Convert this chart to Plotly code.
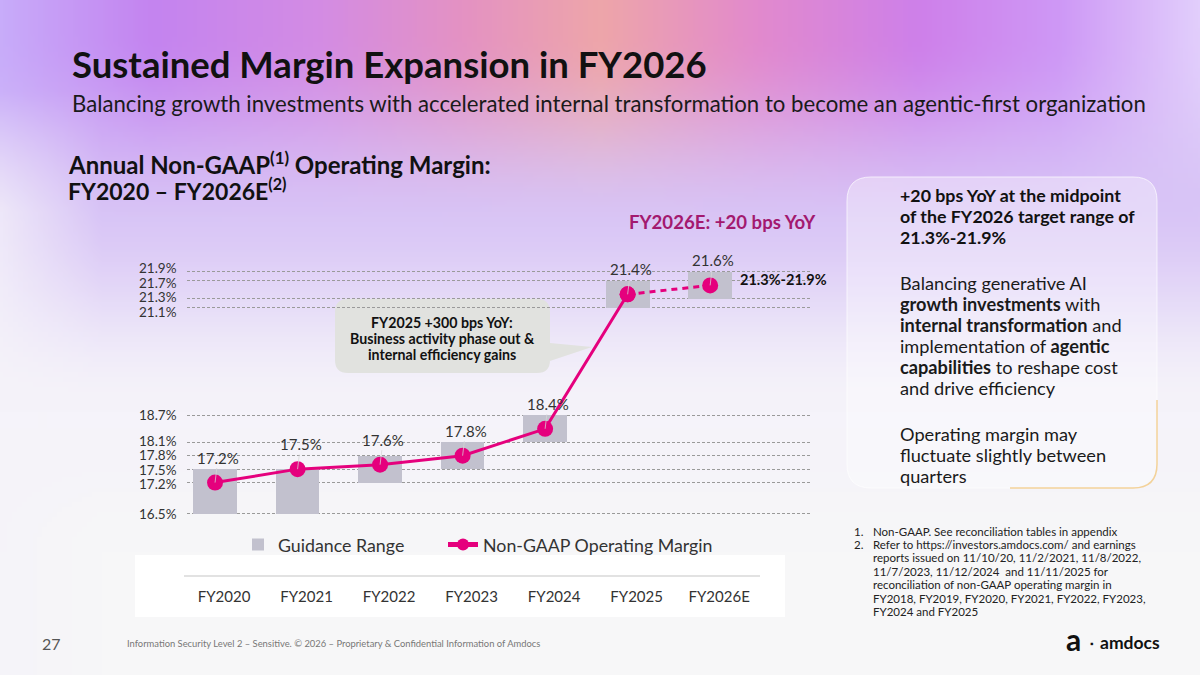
import base64, struct, zlib
import numpy as np
import plotly.graph_objects as go

# ---------------- data ----------------
categories = ["FY2020", "FY2021", "FY2022", "FY2023", "FY2024", "FY2025", "FY2026E"]
margin_pct = [17.2, 17.5, 17.6, 17.8, 18.4, 21.4, 21.6]
guide_low = [16.5, 16.5, 17.2, 17.5, 18.1, 21.1, 21.3]
guide_high = [17.5, 17.5, 17.8, 18.1, 18.7, 21.7, 21.9]
y_ticks = sorted(set(guide_low + guide_high))
y_tick_labels = [f"{v:.1f}%" for v in y_ticks]
margin_labels = [f"{v:.1f}%" for v in margin_pct]
target_label = "21.3%-21.9%"

W, H = 1200, 675
FONT = "Lato, sans-serif"
PINK = "#e5007d"
DARK = "#111111"

# plot area (pixels) and y range
PLOT_TOP, PLOT_BOTTOM = 254, 576
Y_RANGE = [15.116, 22.30]


def px(x):
    return x / W


def py(y):
    return 1 - y / H


# ---------------- background gradient (decorative) ----------------
GW, GH = 240, 135
gx = np.linspace(0, W, GW)[None, :]
gy = np.linspace(0, H, GH)[:, None]
stops_x = [0, 150, 320, 460, 600, 760, 920, 1060, 1200]
stops_c = [(200, 172, 250), (196, 132, 240), (212, 140, 228), (228, 146, 196), (238, 166, 170),
           (226, 138, 206), (206, 128, 234), (206, 152, 246), (226, 206, 252)]
top = np.stack([np.interp(gx[0], stops_x, [c[k] for c in stops_c]) for k in range(3)], axis=-1)
mid = np.array([216, 196, 246.0])
light = np.array([245, 243, 250.0])
base = np.array([247, 247, 248.0])


def ss(t):
    t = np.clip(t, 0, 1)
    return t * t * (3 - 2 * t)


t1 = ss((gy - 30) / 200)[..., None]
t2 = ss((gy - 190) / 220)[..., None]
t3 = ss((gy - 430) / 120)[..., None]
col = top[None, :, :] * (1 - t1) + mid * t1
col = col * (1 - t2) + light * t2
col = col * (1 - t3) + base * t3
wl = (np.clip((100 - gx) / 100, 0, 1) * np.clip((gy - 90) / 120, 0, 1))[..., None] * 0.75
col = col * (1 - wl) + light * wl
img = np.clip(col, 0, 255).astype(np.uint8)
raw = b"".join(b"\x00" + img[r].tobytes() for r in range(GH))


def chunk(tag, data):
    return struct.pack(">I", len(data)) + tag + data + struct.pack(">I", zlib.crc32(tag + data) & 0xffffffff)


png = (b"\x89PNG\r\n\x1a\n" + chunk(b"IHDR", struct.pack(">IIBBBBB", GW, GH, 8, 2, 0, 0, 0))
       + chunk(b"IDAT", zlib.compress(raw, 9)) + chunk(b"IEND", b""))
bg_src = "data:image/png;base64," + base64.b64encode(png).decode()


def rrect_path(x0, y0, x1, y1, r, tail=None):
    def P(x, y):
        return f"{px(x):.5f},{py(y):.5f}"
    s = f"M {P(x0 + r, y0)} L {P(x1 - r, y0)} Q {P(x1, y0)} {P(x1, y0 + r)} "
    if tail:
        ty0, tx, ty, ty1 = tail
        s += f"L {P(x1, ty0)} L {P(tx, ty)} L {P(x1, ty1)} "
    s += (f"L {P(x1, y1 - r)} Q {P(x1, y1)} {P(x1 - r, y1)} L {P(x0 + r, y1)} "
          f"Q {P(x0, y1)} {P(x0, y1 - r)} L {P(x0, y0 + r)} Q {P(x0, y0)} {P(x0 + r, y0)} Z")
    return s


# ---------------- figure ----------------
fig = go.Figure()
fig.add_trace(go.Bar(
    x=categories, y=[h - l for h, l in zip(guide_high, guide_low)], base=guide_low,
    width=0.53, marker=dict(color="#c2c1ce", line=dict(width=0)),
    name="Guidance Range", hoverinfo="skip", legend="legend"))
fig.add_trace(go.Scatter(
    x=categories[:-1], y=margin_pct[:-1], mode="lines+markers",
    line=dict(color=PINK, width=3), marker=dict(size=16, color=PINK),
    name="Non-GAAP Operating Margin", legend="legend2"))
fig.add_trace(go.Scatter(
    x=categories[-2:], y=margin_pct[-2:], mode="lines+markers",
    line=dict(color=PINK, width=3, dash="6px,5px"), marker=dict(size=16, color=PINK),
    showlegend=False))

annotations = []
for c, v, t in zip(categories, margin_pct, margin_labels):
    annotations.append(dict(x=c, y=v, xref="x", yref="y", text=t, showarrow=True,
                            arrowhead=0, arrowwidth=0.8, arrowcolor="rgba(215,215,215,0.95)",
                            ax=3, ay=-25, font=dict(family=FONT, size=15, color="#333333")))
annotations.append(dict(x=categories[-1], y=guide_high[-1], xref="x", yref="y", text=f"<b>{target_label}</b>",
                        showarrow=False, xanchor="left", yanchor="middle", xshift=28, yshift=-8,
                        font=dict(family=FONT, size=14.5, color=DARK)))

# y tick labels as annotations, spread apart slightly where gridlines are close
ppu = (PLOT_BOTTOM - PLOT_TOP) / (Y_RANGE[1] - Y_RANGE[0])
order = sorted(range(len(y_ticks)), key=lambda i: -y_ticks[i])
orig = [-(y_ticks[i]) * ppu for i in order]
pos = list(orig)
MIN_GAP = 14.5
for _ in range(40):
    for k in range(len(pos) - 1):
        gap = pos[k + 1] - pos[k]
        if gap < MIN_GAP:
            d = (MIN_GAP - gap) / 2
            pos[k] -= d
            pos[k + 1] += d
for k, i in enumerate(order):
    annotations.append(dict(x=px(179), y=y_ticks[i], xref="paper", yref="y", text=y_tick_labels[i],
                            showarrow=False, xanchor="right", yanchor="middle",
                            yshift=-(pos[k] - orig[k]),
                            font=dict(family=FONT, size=13.5, color="#333333")))


def txt(x, y, text, size, color=DARK, anchor="left", bold=False):
    if bold:
        text = f"<b>{text}</b>"
    annotations.append(dict(x=px(x), y=py(y), xref="paper", yref="paper", text=text, showarrow=False,
                            xanchor=anchor, yanchor="middle", align=anchor,
                            font=dict(family=FONT, size=size, color=color)))


txt(70, 64, "Sustained Margin Expansion in FY2026", 36.5, bold=True)
txt(70, 104, "Balancing growth investments with accelerated internal transformation to become an agentic-first organization", 22.2, color="#1a1a1a")
txt(66, 163, "<b>Annual Non-GAAP<sup>(1)</sup> Operating Margin:</b>", 24)
txt(66, 190, "<b>FY2020 – FY2026E<sup>(2)</sup></b>", 23)
txt(627, 222, "FY2026E: +20 bps YoY", 18.6, color="#a3196f", bold=True)

# callout text
for y, t in [(322, "FY2025 +300 bps YoY:"), (338, "Business activity phase out &"), (354, "internal efficiency gains")]:
    txt(442, y, t, 14.2, anchor="center", bold=True)

# right panel
for y, t in [(195, "<b>+20 bps YoY at the midpoint</b>"), (216, "<b>of the FY2026 target range of</b>"),
             (237, "<b>21.3%-21.9%</b>")]:
    txt(898, y, t, 17.8)
for y, t in [(283, "Balancing generative AI"), (304, "<b>growth investments</b> with"),
             (325, "<b>internal transformation</b> and"), (346, "implementation of <b>agentic</b>"),
             (367, "<b>capabilities</b> to reshape cost"), (388, "and drive efficiency"),
             (434, "Operating margin may"), (455, "fluctuate slightly between"), (476, "quarters")]:
    txt(898, y, t, 18.2, color="#1a1a1a")

# footnotes
txt(852, 531, "1.", 11.5, color="#222222")
txt(852, 544, "2.", 11.5, color="#222222")
for y, t in [(531, "Non-GAAP. See reconciliation tables in appendix"),
             (544, "Refer to https://investors.amdocs.com/ and earnings"),
             (557, "reports issued on 11/10/20, 11/2/2021, 11/8/2022,"),
             (571, "11/7/2023, 11/12/2024  and 11/11/2025 for"),
             (584, "reconciliation of non-GAAP operating margin in"),
             (598, "FY2018, FY2019, FY2020, FY2021, FY2022, FY2023,"),
             (611, "FY2024 and FY2025")]:
    txt(871, y, t, 11.5, color="#222222")

# footer
txt(40, 643, "27", 16, color="#555555")
txt(125, 643, "Information Security Level 2 – Sensitive. © 2026 – Proprietary & Confidential Information of Amdocs", 9.4, color="#777777")
txt(1064, 639, "a", 30, bold=True)
txt(1088, 643, "▪", 9)
txt(1098, 642, "amdocs", 17.5, bold=True)

shapes = [
    # white panel behind category labels
    dict(type="rect", xref="paper", yref="paper", x0=px(135), x1=px(785), y0=py(617), y1=py(555),
         fillcolor="#ffffff", line=dict(width=0), layer="below"),
    dict(type="line", xref="paper", yref="paper", x0=px(184), x1=px(760), y0=py(576), y1=py(576),
         line=dict(color="#e2e2e2", width=2), layer="below"),
    # right text panel
    dict(type="path", xref="paper", yref="paper", path=rrect_path(847, 177, 1157, 488, 24),
         fillcolor="rgba(255,255,255,0.35)", line=dict(color="rgba(255,255,255,0.7)", width=1), layer="below"),
    dict(type="path", xref="paper", yref="paper",
         path=f"M {px(1157):.5f},{py(400):.5f} L {px(1157):.5f},{py(464):.5f} Q {px(1157):.5f},{py(488):.5f} {px(1133):.5f},{py(488):.5f} L {px(1010):.5f},{py(488):.5f}",
         line=dict(color="rgba(240,196,120,0.75)", width=1.5), layer="below"),
    # callout bubble
    dict(type="path", xref="paper", yref="paper",
         path=rrect_path(335, 299, 550, 373, 13, tail=(343, 592, 347, 361)),
         fillcolor="#e1e2df", line=dict(width=0), layer="between"),
]

legend_style = dict(orientation="h", yanchor="middle", xanchor="left", bgcolor="rgba(0,0,0,0)",
                    font=dict(family=FONT, size=17.8, color="#333333"), itemsizing="constant")

fig.update_layout(
    width=W, height=H, autosize=False,
    margin=dict(l=0, r=0, t=0, b=0),
    paper_bgcolor="#f7f7f8", plot_bgcolor="rgba(0,0,0,0)",
    font=dict(family=FONT, color="#333333"),
    images=[dict(source=bg_src, xref="paper", yref="paper", x=0, y=1, sizex=1, sizey=1,
                 xanchor="left", yanchor="top", sizing="stretch", layer="below")],
    shapes=shapes, annotations=annotations,
    barmode="overlay", bargap=0,
    showlegend=True,
    legend=dict(x=px(238), y=py(545), **legend_style),
    legend2=dict(x=px(443), y=py(545), **legend_style),
    xaxis=dict(domain=[px(187), px(810)], range=[-0.34, 7.21], type="category",
               categoryorder="array", categoryarray=categories,
               showgrid=False, zeroline=False, showline=False, ticks="",
               tickfont=dict(family=FONT, size=15, color="#333333"),
               ticklabelstandoff=10, ticklabelshift=9, fixedrange=True),
    yaxis=dict(domain=[py(PLOT_BOTTOM), py(PLOT_TOP)], range=Y_RANGE,
               tickmode="array", tickvals=y_ticks, showticklabels=False,
               showgrid=True, gridcolor="#9a9a9a", gridwidth=1, griddash="3px,2px",
               zeroline=False, showline=False, ticks="", fixedrange=True),
)

fig.write_html("out.html", config={"displayModeBar": False, "staticPlot": True},
               post_script="document.body.style.margin='0';document.body.style.overflow='hidden';")
